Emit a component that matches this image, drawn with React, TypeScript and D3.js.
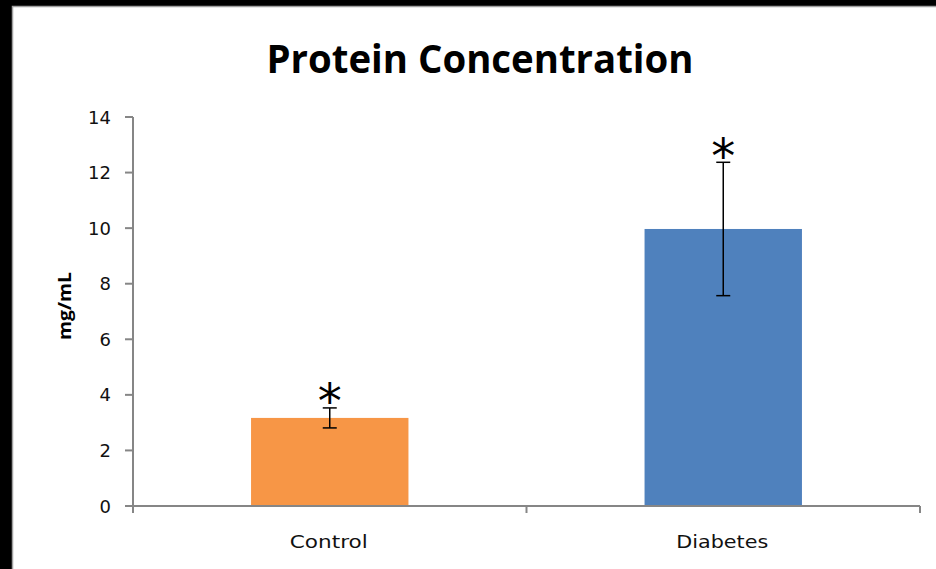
import React from "react";
import * as d3 from "d3";

const categories = ["Control", "Diabetes"];
const values = [3.17, 9.97];
const errors = [0.36, 2.4];
const barColors = ["#F79646", "#4F81BD"];
const yTicks = [0, 2, 4, 6, 8, 10, 12, 14];
const title = "Protein Concentration";
const yLabel = "mg/mL";
const catLabelWidths = [78, 92];

const W = 936;
const H = 569;
const m = { left: 133, right: 920, top: 117, bottom: 506 };

export default function App() {
  const x = d3.scaleBand<string>().domain(categories).range([m.left, m.right]).paddingInner(0.6).paddingOuter(0.3);
  const band = d3.scaleBand<string>().domain(categories).range([m.left, m.right]);
  const y = d3.scaleLinear().domain([0, 14]).range([m.bottom, m.top]);
  const axisColor = "#868686";
  const font = "'Open Sans', 'DejaVu Sans', sans-serif";
  const tickFont = "'DejaVu Sans', sans-serif";
  return (
    <svg width={W} height={H} style={{ position: "absolute", left: 0, top: 0 }}>
      <rect x={0} y={0} width={W} height={H} fill="#000" />
      <rect x={12.5} y={6.5} width={W} height={H} fill="#fff" stroke="#a0a0a0" strokeWidth={1.5} />
      <text x={480} y={73} textAnchor="middle" fontFamily={font} fontWeight="bold" fontSize={40} textLength={427} lengthAdjust="spacingAndGlyphs" fill="#000">
        {title}
      </text>
      <text transform="translate(71,306) rotate(-90)" textAnchor="middle" fontFamily={font} fontWeight="bold" fontSize={17} textLength={68} lengthAdjust="spacingAndGlyphs" fill="#000">
        {yLabel}
      </text>
      {categories.map((c, i) => (
        <rect key={c} x={x(c)} y={y(values[i])} width={x.bandwidth()} height={y(0) - y(values[i])} fill={barColors[i]} />
      ))}
      <line x1={m.left} x2={m.left} y1={m.top} y2={m.bottom + 7} stroke={axisColor} strokeWidth={2} />
      <line x1={m.left - 7} x2={m.right} y1={m.bottom} y2={m.bottom} stroke={axisColor} strokeWidth={2} />
      {yTicks.map((t) => (
        <g key={t}>
          <line x1={m.left - 8} x2={m.left} y1={y(t)} y2={y(t)} stroke={axisColor} strokeWidth={2} />
          <text x={111} y={y(t) + 6.5} textAnchor="end" fontFamily={tickFont} fontSize={18} fill="#111">
            {t}
          </text>
        </g>
      ))}
      {categories.map((c) => (
        <line key={c} x1={(band(c) as number) + band.bandwidth()} x2={(band(c) as number) + band.bandwidth()} y1={m.bottom} y2={m.bottom + 7} stroke={axisColor} strokeWidth={2} />
      ))}
      {categories.map((c, i) => (
        <text key={c} x={(band(c) as number) + band.bandwidth() / 2 - 1} y={548} textAnchor="middle" fontFamily={tickFont} fontSize={18} textLength={catLabelWidths[i]} lengthAdjust="spacingAndGlyphs" fill="#111">
          {c}
        </text>
      ))}
      {categories.map((c, i) => {
        const cx = (x(c) as number) + x.bandwidth() / 2;
        const yt = y(values[i] + errors[i]);
        const yb = y(values[i] - errors[i]);
        return (
          <g key={c} stroke="#000" strokeWidth={1.5}>
            <line x1={cx} x2={cx} y1={yt} y2={yb} />
            <line x1={cx - 7} x2={cx + 7} y1={yt} y2={yt} />
            <line x1={cx - 7} x2={cx + 7} y1={yb} y2={yb} />
          </g>
        );
      })}
      {categories.map((c, i) => {
        const cx = (x(c) as number) + x.bandwidth() / 2;
        const yt = y(values[i] + errors[i]);
        return (
          <text key={c} x={cx} y={yt - 17 + 0.57 * 48} textAnchor="middle" fontFamily="'DejaVu Sans', sans-serif" fontSize={48} fill="#000">
            *
          </text>
        );
      })}
    </svg>
  );
}
